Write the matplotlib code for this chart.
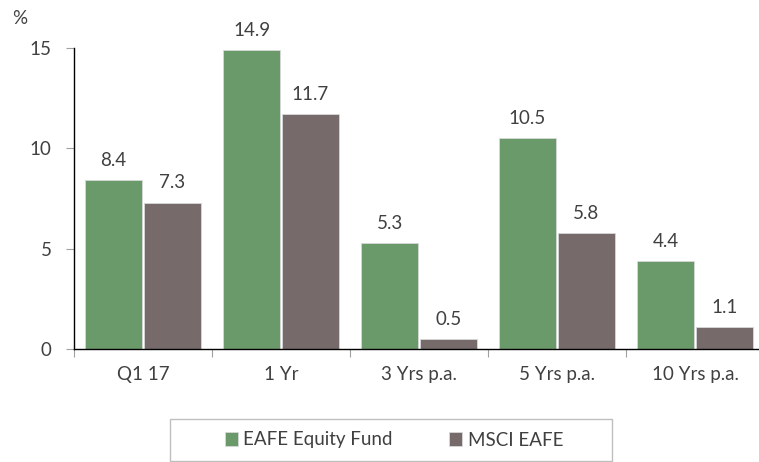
import matplotlib
matplotlib.use("Agg")
import matplotlib.pyplot as plt
from matplotlib.patches import Rectangle
import numpy as np

categories = ["Q1 17", "1 Yr", "3 Yrs p.a.", "5 Yrs p.a.", "10 Yrs p.a."]
fund = [8.4, 14.9, 5.3, 10.5, 4.4]
index = [7.3, 11.7, 0.5, 5.8, 1.1]
series_names = ["EAFE Equity Fund", "MSCI EAFE"]
yticks = [0, 5, 10, 15]

green = "#6B9A6A"
grey = "#766B6A"
txt = "#404040"

plt.rcParams['font.family'] = ['Lato', 'DejaVu Sans']

fig = plt.figure(figsize=(7.59, 4.62), dpi=100)
ax = fig.add_axes([74/759, 113/462, 690/759, 301/462])

x = np.arange(len(categories))
w = 0.413
b1 = ax.bar(x - w/2 - 0.007, fund, w, color=green, edgecolor="#d9d9d9", linewidth=0.6, label=series_names[0])
b2 = ax.bar(x + w/2 + 0.007, index, w, color=grey, edgecolor="#d9d9d9", linewidth=0.6, label=series_names[1])

for bars, vals in ((b1, fund), (b2, index)):
    for r, v in zip(bars, vals):
        ax.annotate(f"{v:.1f}", (r.get_x() + r.get_width()/2, v), xytext=(0, 8),
                    textcoords="offset points", ha="center", va="bottom",
                    fontsize=13.5, color=txt)

ax.set_xlim(-0.5, len(categories) - 0.5)
ax.set_ylim(0, 15)
ax.set_yticks(yticks)
ax.set_yticklabels([str(t) for t in yticks])
ax.set_xticks(np.arange(len(categories) + 1) - 0.5, minor=False)
ax.set_xticklabels([""] * (len(categories) + 1))
ax.set_xticks(x, minor=True)
ax.set_xticklabels(categories, minor=True)
ax.tick_params(axis="x", which="minor", length=0, pad=12, labelsize=13.5, labelcolor=txt)
ax.tick_params(axis="x", which="major", length=6, color="#a0a0a0", direction="out")
ax.tick_params(axis="y", length=6, color="#a0a0a0", direction="out", pad=10, labelsize=13.5, labelcolor=txt)

for s in ("top", "right"):
    ax.spines[s].set_visible(False)
ax.spines["left"].set_color("black")
ax.spines["bottom"].set_color("black")
ax.spines["left"].set_linewidth(1.0)
ax.spines["bottom"].set_linewidth(1.0)

fig.text(12/759, 1 - 18/462, "%", fontsize=13.5, color=txt, ha="left", va="center")

fig.patches.append(Rectangle((170/759, 1 - 461/462), 442/759, 42/462,
                             transform=fig.transFigure, fill=False,
                             edgecolor="#bfbfbf", linewidth=1.0))

leg = fig.legend(handles=[b1, b2], labels=series_names, loc="center",
                 bbox_to_anchor=(394/759, 1 - 440/462), ncol=2, frameon=False,
                 fontsize=13.5,
                 handlelength=0.7, handleheight=0.7, handletextpad=0.3,
                 columnspacing=3.0, borderpad=0.0, borderaxespad=0)
for t in leg.get_texts():
    t.set_color(txt)

fig.savefig("out.png", dpi=100)
